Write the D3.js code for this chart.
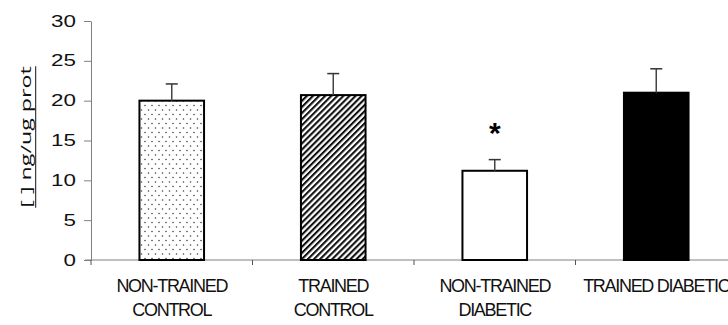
<!DOCTYPE html>
<html>
<head>
<meta charset="utf-8">
<script src="https://cdn.jsdelivr.net/npm/d3@7"></script>
<style>
  html, body { margin: 0; padding: 0; background: #fff; }
  svg { display: block; font-family: Arial, "Liberation Sans", sans-serif; }
</style>
</head>
<body>
<svg id="chart" width="728" height="325"></svg>
<script>
// данные графика
const groups = ["NON-TRAINED CONTROL", "TRAINED CONTROL", "NON-TRAINED DIABETIC", "TRAINED DIABETIC"];
const groupLines = [["NON-TRAINED", "CONTROL"], ["TRAINED", "CONTROL"], ["NON-TRAINED", "DIABETIC"], ["TRAINED DIABETIC"]];
const means = [20.0, 20.7, 11.2, 21.0];
const errors = [2.1, 2.7, 1.4, 3.0];
const signif = ["", "", "*", ""];
const yTicks = [0, 5, 10, 15, 20, 25, 30];
const fills = ["url(#dots)", "url(#stripes)", "#fff", "#000"];

const svg = d3.select("#chart");

// узоры заливки
const defs = svg.append("defs");
const dots = defs.append("pattern")
    .attr("id", "dots").attr("patternUnits", "userSpaceOnUse")
    .attr("width", 7).attr("height", 9);
dots.append("rect").attr("width", 7).attr("height", 9).attr("fill", "#fff");
dots.append("circle").attr("cx", 1.5).attr("cy", 2).attr("r", 0.8).attr("fill", "#444");
dots.append("circle").attr("cx", 5).attr("cy", 6.5).attr("r", 0.8).attr("fill", "#444");

const stripes = defs.append("pattern")
    .attr("id", "stripes").attr("patternUnits", "userSpaceOnUse")
    .attr("width", 4.3).attr("height", 4.3)
    .attr("patternTransform", "rotate(45)");
stripes.append("rect").attr("width", 4.3).attr("height", 4.3).attr("fill", "#fff");
stripes.append("rect").attr("width", 2.1).attr("height", 4.3).attr("fill", "#111");

// шкалы
const x = d3.scaleBand().domain(groups).range([91, 737]).padding(0);
const y = d3.scaleLinear().domain([0, 30]).range([260, 21]);
const barW = x.bandwidth() * 0.4;

// ось Y
const gy = svg.append("g")
    .attr("transform", "translate(91,0)")
    .call(d3.axisLeft(y).tickValues(yTicks).tickSize(7).tickPadding(8).tickSizeOuter(0));
gy.select(".domain").attr("stroke", "#808080");
gy.selectAll(".tick line").attr("stroke", "#808080");
gy.selectAll(".tick text")
    .attr("font-size", 16)
    .attr("fill", "#111")
    .attr("x", -15 / 1.4)
    .attr("transform", "scale(1.4,1)");

// ось X
svg.append("line")
    .attr("x1", 85).attr("x2", 728)
    .attr("y1", y(0)).attr("y2", y(0))
    .attr("stroke", "#808080");
svg.selectAll(".xtick")
    .data(groups)
    .join("line")
    .attr("class", "xtick")
    .attr("x1", d => x(d)).attr("x2", d => x(d))
    .attr("y1", y(0)).attr("y2", y(0) + 5)
    .attr("stroke", "#555");

// столбцы
svg.selectAll(".bar")
    .data(groups)
    .join("rect")
    .attr("class", "bar")
    .attr("x", d => x(d) + (x.bandwidth() - barW) / 2)
    .attr("width", barW)
    .attr("y", (d, i) => y(means[i]))
    .attr("height", (d, i) => y(0) - y(means[i]))
    .attr("fill", (d, i) => fills[i])
    .attr("stroke", "#000")
    .attr("stroke-width", 2);

// планки погрешностей
const cx = d => x(d) + x.bandwidth() / 2;
svg.selectAll(".err")
    .data(groups)
    .join("line")
    .attr("class", "err")
    .attr("x1", cx).attr("x2", cx)
    .attr("y1", (d, i) => y(means[i]))
    .attr("y2", (d, i) => y(means[i] + errors[i]))
    .attr("stroke", "#444").attr("stroke-width", 1.5);
svg.selectAll(".cap")
    .data(groups)
    .join("line")
    .attr("class", "cap")
    .attr("x1", d => cx(d) - 6).attr("x2", d => cx(d) + 6)
    .attr("y1", (d, i) => y(means[i] + errors[i]))
    .attr("y2", (d, i) => y(means[i] + errors[i]))
    .attr("stroke", "#333").attr("stroke-width", 1.5);

// звездочка значимости
svg.selectAll(".sig")
    .data(groups)
    .join("text")
    .attr("class", "sig")
    .attr("x", cx)
    .attr("y", (d, i) => y(means[i] + errors[i]) - 17)
    .attr("text-anchor", "middle")
    .attr("font-size", 30)
    .attr("font-weight", "bold")
    .attr("fill", "#000")
    .text((d, i) => signif[i]);

// подписи категорий
const lbl = svg.selectAll(".xlab")
    .data(groups)
    .join("text")
    .attr("class", "xlab")
    .attr("text-anchor", "middle")
    .attr("font-size", 18)
    .attr("letter-spacing", -1.3)
    .attr("fill", "#111");
lbl.selectAll("tspan")
    .data((d, i) => groupLines[i].map(t => ({ t, c: cx(d) })))
    .join("tspan")
    .attr("x", d => d.c)
    .attr("y", (d, j) => 292 + j * 24)
    .text(d => d.t);

// подпись оси Y (растянута и подчеркнута)
const gl = svg.append("g")
    .attr("transform", "translate(31,137) rotate(-90) scale(1.55,1)");
const ylab = gl.append("text")
    .attr("text-anchor", "middle")
    .attr("font-family", "'Open Sans', sans-serif")
    .attr("font-size", 15)
    .attr("fill", "#111")
    .text("[ ] ng/ug prot");
const w = ylab.node().getComputedTextLength();
gl.append("line")
    .attr("x1", -w / 2).attr("x2", w / 2)
    .attr("y1", 4.7).attr("y2", 4.7)
    .attr("stroke", "#111").attr("stroke-width", 1);
</script>
</body>
</html>
